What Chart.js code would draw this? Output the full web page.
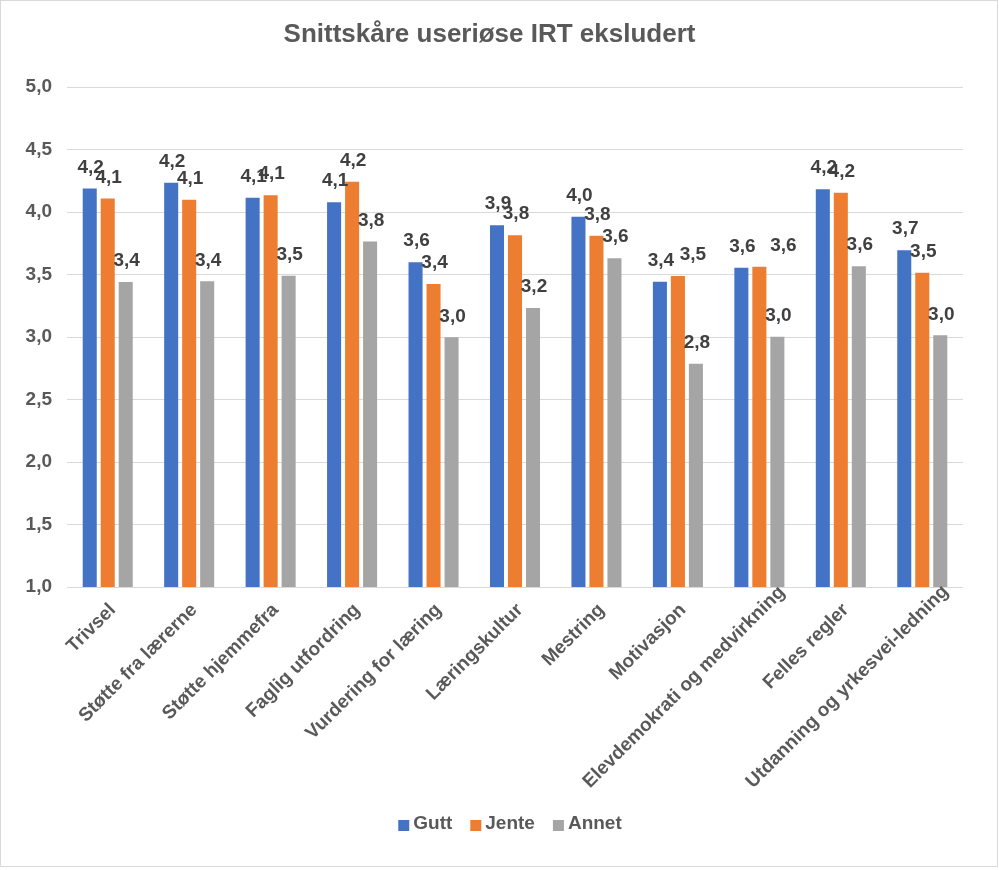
<!DOCTYPE html>
<html>
<head>
<meta charset="utf-8">
<script src="https://cdn.jsdelivr.net/npm/chart.js@4.4.1/dist/chart.umd.min.js"></script>
<style>
  body { margin: 0; background: #fff; }
</style>
</head>
<body>
<canvas id="snitt" width="999" height="870"></canvas>
<script>
const categories = ['Trivsel', 'Støtte fra lærerne', 'Støtte hjemmefra', 'Faglig utfordring',
  'Vurdering for læring', 'Læringskultur', 'Mestring', 'Motivasjon',
  'Elevdemokrati og medvirkning', 'Felles regler', 'Utdanning og yrkesvei-ledning'];
const gutt  = [4.19, 4.235, 4.115, 4.08, 3.60, 3.896, 3.963, 3.443, 3.555, 4.184, 3.696];
const jente = [4.11, 4.10, 4.136, 4.243, 3.424, 3.816, 3.811, 3.488, 3.563, 4.155, 3.515];
const annet = [3.44, 3.446, 3.49, 3.766, 2.998, 3.232, 3.632, 2.787, 3.003, 3.568, 3.014];

const grey = '#595959';
const fam = '"Liberation Sans", Arial, sans-serif';
Chart.defaults.font.family = fam;

// frame round the whole chart
const frame = {
  id: 'frame',
  beforeDraw(chart) {
    const ctx = chart.ctx;
    ctx.save();
    ctx.fillStyle = '#fff';
    ctx.fillRect(0, 0, chart.width, chart.height);
    ctx.strokeStyle = '#d9d9d9';
    ctx.lineWidth = 1;
    ctx.strokeRect(0.5, 0.5, 997, 866);
    ctx.restore();
  }
};

// value labels above bars (comma decimals like the excel original)
const valueLabels = {
  id: 'valueLabels',
  afterDatasetsDraw(chart, args, opts) {
    const ctx = chart.ctx;
    ctx.save();
    ctx.font = 'bold 19px ' + fam;
    ctx.fillStyle = '#404040';
    ctx.textAlign = 'center';
    ctx.textBaseline = 'middle';
    chart.data.datasets.forEach((ds, i) => {
      const nudge = opts.nudge[ds.label] || {};
      chart.getDatasetMeta(i).data.forEach((bar, j) => {
        const txt = ds.data[j].toFixed(1).replace('.', ',');
        ctx.fillText(txt, bar.x + 1 + (nudge[j] || 0), bar.y - 21);
      });
    });
    ctx.restore();
  }
};

// rotated category labels; long ones get pushed up along the slant so they
// stay above a bottom limit, the way excel does it
const catLabels = {
  id: 'catLabels',
  afterDraw(chart, args, opts) {
    const ctx = chart.ctx, xs = chart.scales.x;
    const c = Math.SQRT1_2;
    ctx.save();
    ctx.font = 'bold 19px ' + fam;
    ctx.fillStyle = grey;
    ctx.textAlign = 'right';
    ctx.textBaseline = 'middle';
    chart.data.labels.forEach((lab, i) => {
      let x = xs.getPixelForTick(i) + opts.dx;
      let y = xs.top + opts.dy;
      const w = ctx.measureText(lab).width;
      const over = y + c * w + 5 - opts.limit;
      if (over > 0) { x += over; y -= over; }
      ctx.save();
      ctx.translate(x, y);
      ctx.rotate(-Math.PI / 4);
      ctx.fillText(lab, 0, 0);
      ctx.restore();
    });
    ctx.restore();
  }
};

// legend drawn by hand: small square, tight gap, then the name
const legendRow = {
  id: 'legendRow',
  afterDraw(chart, args, opts) {
    const ctx = chart.ctx;
    ctx.save();
    ctx.font = 'bold 19px ' + fam;
    ctx.textBaseline = 'middle';
    ctx.textAlign = 'left';
    const items = chart.data.datasets.map(d => ({ t: d.label, c: d.backgroundColor, w: ctx.measureText(d.label).width }));
    const total = items.reduce((s, it) => s + 11 + 4 + it.w, 0) + 18 * (items.length - 1);
    let x = opts.cx - total / 2;
    items.forEach(it => {
      ctx.fillStyle = it.c;
      ctx.fillRect(x, opts.cy - 4, 11, 11);
      ctx.fillStyle = grey;
      ctx.fillText(it.t, x + 15, opts.cy);
      x += 15 + it.w + 18;
    });
    ctx.restore();
  }
};

new Chart(document.getElementById('snitt'), {
  type: 'bar',
  data: {
    labels: categories,
    datasets: [
      { label: 'Gutt', data: gutt, backgroundColor: '#4472C4' },
      { label: 'Jente', data: jente, backgroundColor: '#ED7D31' },
      { label: 'Annet', data: annet, backgroundColor: '#A5A5A5' }
    ]
  },
  options: {
    responsive: false,
    animation: false,
    devicePixelRatio: 1,
    datasets: { bar: { barPercentage: 0.78, categoryPercentage: 0.663 } },
    layout: { padding: { left: 16, right: 36, top: 0, bottom: 65 } },
    scales: {
      x: {
        grid: { display: false },
        border: { display: false },
        ticks: { display: false },
        afterFit(scale) { scale.height = 218; }
      },
      y: {
        min: 1, max: 5,
        grid: { color: '#d9d9d9', drawTicks: false },
        border: { display: false },
        ticks: {
          stepSize: 0.5, padding: 15, color: grey,
          font: { size: 19, weight: 'bold' },
          callback: v => v.toFixed(1).replace('.', ',')
        },
        afterFit(scale) { scale.width = 51; }
      }
    },
    plugins: {
      title: {
        display: true,
        text: 'Snittskåre useriøse IRT eksludert',
        color: grey,
        font: { size: 26, weight: 'bold' },
        padding: { top: 19, bottom: 37 }
      },
      legend: { display: false },
      tooltip: { enabled: false },
      valueLabels: { nudge: { Jente: { 7: 14, 8: 23 } } },
      catLabels: { dx: 5, dy: 20, limit: 790 },
      legendRow: { cx: 510, cy: 824 }
    }
  },
  plugins: [frame, valueLabels, catLabels, legendRow]
});
</script>
</body>
</html>
